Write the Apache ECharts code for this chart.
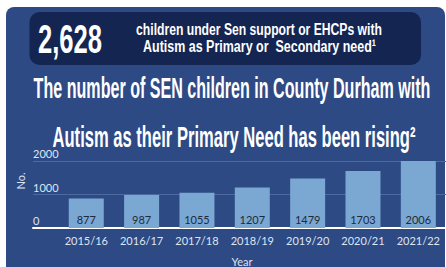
<!DOCTYPE html>
<html>
<head>
<meta charset="utf-8">
<script src="https://cdn.jsdelivr.net/npm/echarts@6/dist/echarts.min.js"></script>
<style>
html,body{margin:0;padding:0;background:#fff;}
#c{width:446px;height:267px;}
</style>
</head>
<body>
<div id="c"></div>
<script>
const categories = ['2015/16', '2016/17', '2017/18', '2018/19', '2019/20', '2020/21', '2021/22'];
const values = [877, 987, 1055, 1207, 1479, 1703, 2006];
const yMin = 0, yMax = 2000, yInterval = 1000;
const headlineNumber = '2,628';
const headlineLines = ['children under Sen support or EHCPs with', 'Autism as Primary or  Secondary need\u00b9'];
const titleLines = ['The number of SEN children in County Durham with', 'Autism as their Primary Need has been rising\u00b2'];
const yAxisName = 'No.';
const xAxisName = 'Year';

const PANEL = '#2d4a85';
const DARK = '#142552';
const BAR = '#7ba7d3';
const GRIDLINE = '#4d6aa0';
const LABEL = '#dfe5f0';
const COND = 'Liberation Sans';

const mctx = document.createElement('canvas').getContext('2d');
function fitScale(text, size, family, target) {
  mctx.font = 'bold ' + size + 'px "' + family + '"';
  const w = mctx.measureText(text).width;
  return w > 0 ? target / w : 1;
}
function condText(text, cx, cy, size, target) {
  const s = fitScale(text, size, COND, target);
  return {
    type: 'text', x: cx, y: cy, scaleX: s, scaleY: 1, z: 10,
    style: { text: text, fill: '#ffffff', fontFamily: COND, fontWeight: 'bold', fontSize: size,
             textAlign: 'center', textVerticalAlign: 'middle' }
  };
}

const chart = echarts.init(document.getElementById('c'), null, { renderer: 'svg' });
chart.setOption({
  backgroundColor: '#ffffff',
  animation: false,
  graphic: [
    { type: 'rect', z: 0, shape: { x: 6, y: 7, width: 439, height: 290, r: 8 }, style: { fill: PANEL } },
    { type: 'rect', z: 1, shape: { x: 29.5, y: 12, width: 391.5, height: 53, r: 10 }, style: { fill: DARK } },
    condText(headlineNumber, 70, 38.5, 41, 64),
    condText(headlineLines[0], 259, 29, 17, 246),
    condText(headlineLines[1], 259.5, 46, 17, 233),
    condText(titleLines[0], 232, 88, 29, 397),
    condText(titleLines[1], 234, 137, 29, 363),
    { type: 'text', x: 20, y: 181, rotation: Math.PI / 2, z: 10,
      style: { text: yAxisName, fill: LABEL, fontFamily: 'Lato', fontSize: 11, textAlign: 'center', textVerticalAlign: 'middle' } },
    { type: 'text', x: 242, y: 261, z: 10,
      style: { text: xAxisName, fill: LABEL, fontFamily: 'Lato', fontSize: 11, textAlign: 'center', textVerticalAlign: 'middle' } }
  ],
  grid: [
    { left: 33, right: 0, top: 161, bottom: 39 },
    { left: 58.6, right: -3, top: 161, bottom: 39 }
  ],
  xAxis: [
    { gridIndex: 0, type: 'value', min: 0, max: 1,
      axisLine: { show: true, onZero: false, lineStyle: { color: '#ffffff', width: 2 } },
      axisTick: { show: false }, axisLabel: { show: false }, splitLine: { show: false } },
    { gridIndex: 1, type: 'category', data: categories,
      axisLine: { show: false }, axisTick: { show: false },
      axisLabel: { interval: 0, color: LABEL, fontFamily: 'Lato', fontSize: 11, margin: 7 } }
  ],
  yAxis: [
    { gridIndex: 0, type: 'value', min: yMin, max: yMax, interval: yInterval,
      axisLine: { show: false }, axisTick: { show: false },
      axisLabel: { inside: true, margin: 0, color: LABEL, fontFamily: 'Lato', fontSize: 11,
                   verticalAlign: 'bottom', padding: [0, 0, 2, 0], formatter: function (v) { return String(v); } },
      splitLine: { show: true, lineStyle: { color: GRIDLINE, width: 1 } } },
    { gridIndex: 1, type: 'value', min: yMin, max: yMax, interval: yInterval, show: false,
      splitLine: { show: false } }
  ],
  series: [
    { type: 'bar', xAxisIndex: 1, yAxisIndex: 1, data: values, barWidth: 35, z: 3,
      itemStyle: { color: BAR },
      label: { show: true, position: 'insideBottom', distance: 3, color: '#1e2a3a',
               fontFamily: 'Lato', fontSize: 11 } }
  ]
});
</script>
</body>
</html>
